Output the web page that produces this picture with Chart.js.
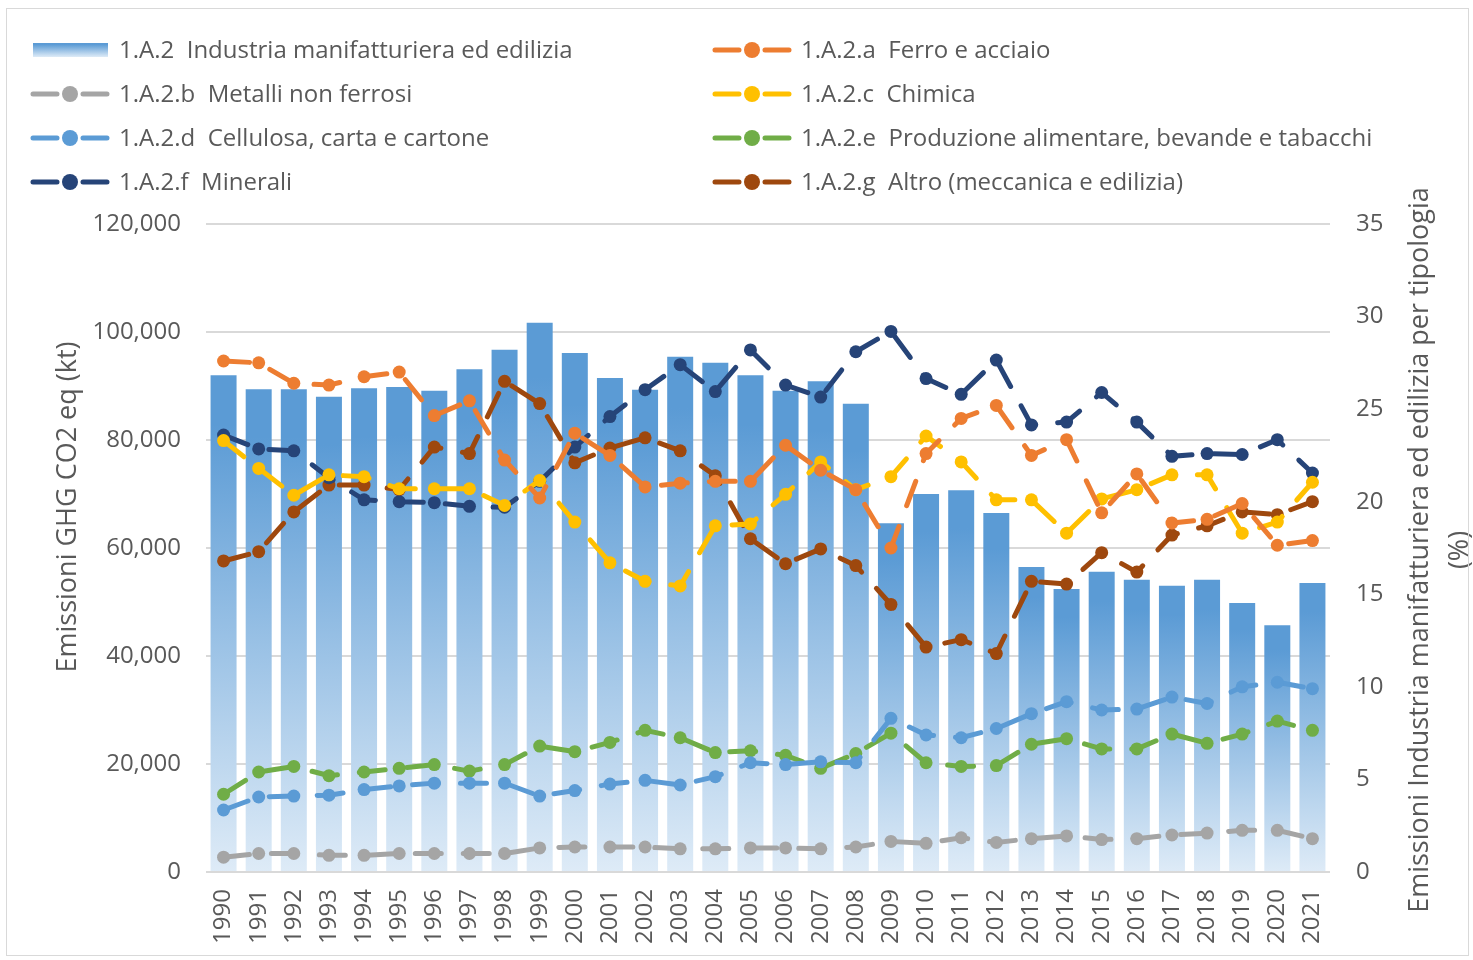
<!DOCTYPE html>
<html>
<head>
<meta charset="utf-8">
<script src="https://cdn.jsdelivr.net/npm/chart.js@4.4.1/dist/chart.umd.min.js"></script>
<style>
  html, body { margin: 0; padding: 0; background: #fff; }
  #wrap { position: relative; width: 1473px; height: 960px; }
  #frame { position: absolute; left: 6px; top: 8px; right: 4px; bottom: 4px; border: 1px solid #d9d9d9; pointer-events: none; }
</style>
</head>
<body>
<div id="wrap">
  <canvas id="chart" width="1473" height="960"></canvas>
  <div id="frame"></div>
</div>
<script>
const years = ["1990","1991","1992","1993","1994","1995","1996","1997","1998","1999","2000",
  "2001","2002","2003","2004","2005","2006","2007","2008","2009","2010",
  "2011","2012","2013","2014","2015","2016","2017","2018","2019","2020","2021"];

// kt CO2 eq (left axis)
const industriaTot = [92000, 89400, 89400, 88000, 89600, 89800, 89100, 93100, 96700, 101700, 96100,
  91500, 89300, 95400, 94300, 92000, 89100, 90900, 86700, 64600, 70000,
  70700, 66500, 56500, 52400, 55600, 54100, 53000, 54100, 49800, 45700, 53500];

// % shares (right axis)
const ferroAcciaio = [27.6, 27.5, 26.4, 26.3, 26.75, 27.0, 24.65, 25.45, 22.25, 20.2, 23.7,
  22.5, 20.8, 21.0, 21.1, 21.1, 23.05, 21.7, 20.65, 17.5, 22.6,
  24.5, 25.2, 22.5, 23.35, 19.4, 21.5, 18.85, 19.05, 19.9, 17.65, 17.9];
const metalliNonFerrosi = [0.8, 1.0, 1.0, 0.9, 0.9, 1.0, 1.0, 1.0, 1.0, 1.3, 1.35,
  1.35, 1.35, 1.25, 1.25, 1.3, 1.3, 1.25, 1.35, 1.65, 1.55,
  1.85, 1.6, 1.8, 1.95, 1.75, 1.8, 2.0, 2.1, 2.25, 2.25, 1.8];
const chimica = [23.3, 21.8, 20.35, 21.45, 21.35, 20.7, 20.7, 20.7, 19.8, 21.15, 18.9,
  16.7, 15.7, 15.45, 18.7, 18.8, 20.4, 22.15, 20.65, 21.35, 23.55,
  22.15, 20.1, 20.1, 18.3, 20.15, 20.65, 21.45, 21.45, 18.3, 18.9, 21.05];
const cellulosa = [3.35, 4.05, 4.1, 4.15, 4.45, 4.65, 4.8, 4.8, 4.8, 4.1, 4.4,
  4.75, 4.95, 4.7, 5.15, 5.9, 5.8, 5.95, 5.9, 8.3, 7.4,
  7.25, 7.75, 8.55, 9.2, 8.75, 8.8, 9.45, 9.1, 10.0, 10.25, 9.9];
const alimentare = [4.2, 5.4, 5.7, 5.2, 5.4, 5.6, 5.8, 5.45, 5.8, 6.8, 6.5,
  7.0, 7.65, 7.25, 6.45, 6.55, 6.3, 5.6, 6.4, 7.5, 5.9,
  5.7, 5.75, 6.9, 7.2, 6.65, 6.65, 7.45, 6.95, 7.45, 8.15, 7.65];
const minerali = [23.6, 22.85, 22.75, 21.3, 20.1, 20.0, 19.95, 19.75, 19.7, 21.1, 22.95,
  24.6, 26.05, 27.4, 25.95, 28.2, 26.3, 25.65, 28.1, 29.2, 26.65,
  25.8, 27.65, 24.15, 24.3, 25.9, 24.3, 22.45, 22.6, 22.55, 23.35, 21.55];
const altro = [16.8, 17.3, 19.45, 20.9, 20.9, 20.65, 22.95, 22.6, 26.5, 25.3, 22.1,
  22.9, 23.45, 22.75, 21.4, 18.0, 16.65, 17.45, 16.55, 14.45, 12.15,
  12.55, 11.8, 15.7, 15.55, 17.25, 16.2, 18.2, 18.7, 19.45, 19.3, 20.0];

const leftTitle = "Emissioni GHG CO2 eq (kt)";
const rightTitle = ["Emissioni Industria manifatturiera ed edilizia per tipologia", "(%)"];

const FONT = '"Open Sans", sans-serif';
const TEXT = "#595959";
const BAR_TOP = "#5B9BD5";
const BAR_BOTTOM = "#DEEBF7";

function barGradient(c, top, bottom) {
  const g = c.createLinearGradient(0, top, 0, bottom);
  g.addColorStop(0, BAR_TOP);
  g.addColorStop(0.1, BAR_TOP);
  g.addColorStop(1, BAR_BOTTOM);
  return g;
}

function lineSet(label, data, color) {
  return {
    type: "line", label, data, yAxisID: "y1", order: 0,
    borderColor: color, backgroundColor: color,
    borderWidth: 5, borderDash: [26, 22], borderCapStyle: "round",
    pointRadius: 6.5, pointHoverRadius: 6.5, pointBorderWidth: 0,
    tension: 0, fill: false
  };
}

// legend in two columns, row-major
const gridLegend = {
  id: "gridLegend",
  afterDraw(chart) {
    const c = chart.ctx;
    c.save();
    c.font = `24px ${FONT}`;
    c.textBaseline = "middle";
    chart.data.datasets.forEach((ds, i) => {
      const x0 = i % 2 === 0 ? 30 : 712;
      const y = 50 + Math.floor(i / 2) * 44;
      if (ds.type === "bar") {
        c.fillStyle = barGradient(c, y - 7, y + 7);
        c.fillRect(x0 + 3, y - 7, 75, 14);
      } else {
        c.strokeStyle = ds.borderColor;
        c.lineWidth = 5;
        c.lineCap = "round";
        c.beginPath();
        c.moveTo(x0 + 3, y); c.lineTo(x0 + 27, y);
        c.moveTo(x0 + 53, y); c.lineTo(x0 + 77, y);
        c.stroke();
        c.fillStyle = ds.borderColor;
        c.beginPath();
        c.arc(x0 + 40, y, 8, 0, Math.PI * 2);
        c.fill();
      }
      c.fillStyle = TEXT;
      c.fillText(ds.label, x0 + 89, y + 1);
    });
    c.restore();
  }
};

// both axis titles read bottom-to-top
const axisTitles = {
  id: "axisTitles",
  afterDraw(chart) {
    const c = chart.ctx;
    c.save();
    c.font = `27px ${FONT}`;
    c.fillStyle = TEXT;
    c.textAlign = "center";
    c.textBaseline = "middle";
    const put = (txt, x, y) => {
      c.save();
      c.translate(x, y);
      c.rotate(-Math.PI / 2);
      c.fillText(txt, 0, 0);
      c.restore();
    };
    put(leftTitle, 68, 507);
    put(rightTitle[0], 1420, 550);
    put(rightTitle[1], 1460, 550);
    c.restore();
  }
};

new Chart(document.getElementById("chart"), {
  data: {
    labels: years,
    datasets: [
      {
        type: "bar", label: "1.A.2  Industria manifatturiera ed edilizia", data: industriaTot,
        yAxisID: "y", order: 1, barPercentage: 0.74, categoryPercentage: 1,
        backgroundColor(ctx) {
          const chart = ctx.chart;
          if (!chart.chartArea || ctx.type !== "data") return BAR_TOP;
          const sc = chart.scales.y;
          return barGradient(chart.ctx, sc.getPixelForValue(ctx.raw), sc.getPixelForValue(0));
        }
      },
      lineSet("1.A.2.a  Ferro e acciaio", ferroAcciaio, "#ED7D31"),
      lineSet("1.A.2.b  Metalli non ferrosi", metalliNonFerrosi, "#A5A5A5"),
      lineSet("1.A.2.c  Chimica", chimica, "#FFC000"),
      lineSet("1.A.2.d  Cellulosa, carta e cartone", cellulosa, "#5B9BD5"),
      lineSet("1.A.2.e  Produzione alimentare, bevande e tabacchi", alimentare, "#70AD47"),
      lineSet("1.A.2.f  Minerali", minerali, "#264478"),
      lineSet("1.A.2.g  Altro (meccanica e edilizia)", altro, "#9E480E")
    ]
  },
  options: {
    responsive: false,
    animation: false,
    layout: { padding: { top: 224, left: 0, right: 0, bottom: 0 } },
    plugins: { legend: { display: false }, tooltip: { enabled: false } },
    scales: {
      x: {
        offset: true,
        grid: { display: false, drawTicks: false },
        border: { display: false },
        ticks: { color: TEXT, font: { family: FONT, size: 24 }, minRotation: 90, maxRotation: 90, padding: 17 },
        afterFit(s) { s.height = 88; }
      },
      y: {
        position: "left", min: 0, max: 120000,
        grid: { color: "#d9d9d9", lineWidth: 2, drawTicks: false },
        border: { display: false },
        ticks: {
          stepSize: 20000, color: TEXT, padding: 25,
          font: { family: FONT, size: 24 },
          callback: v => v.toLocaleString("en-US")
        },
        afterFit(s) { s.width = 206; }
      },
      y1: {
        position: "right", min: 0, max: 35,
        grid: { display: false, drawTicks: false },
        border: { display: false },
        ticks: { stepSize: 5, color: TEXT, padding: 26, font: { family: FONT, size: 24 } },
        afterFit(s) { s.width = 143; }
      }
    }
  },
  plugins: [gridLegend, axisTitles]
});
</script>
</body>
</html>
